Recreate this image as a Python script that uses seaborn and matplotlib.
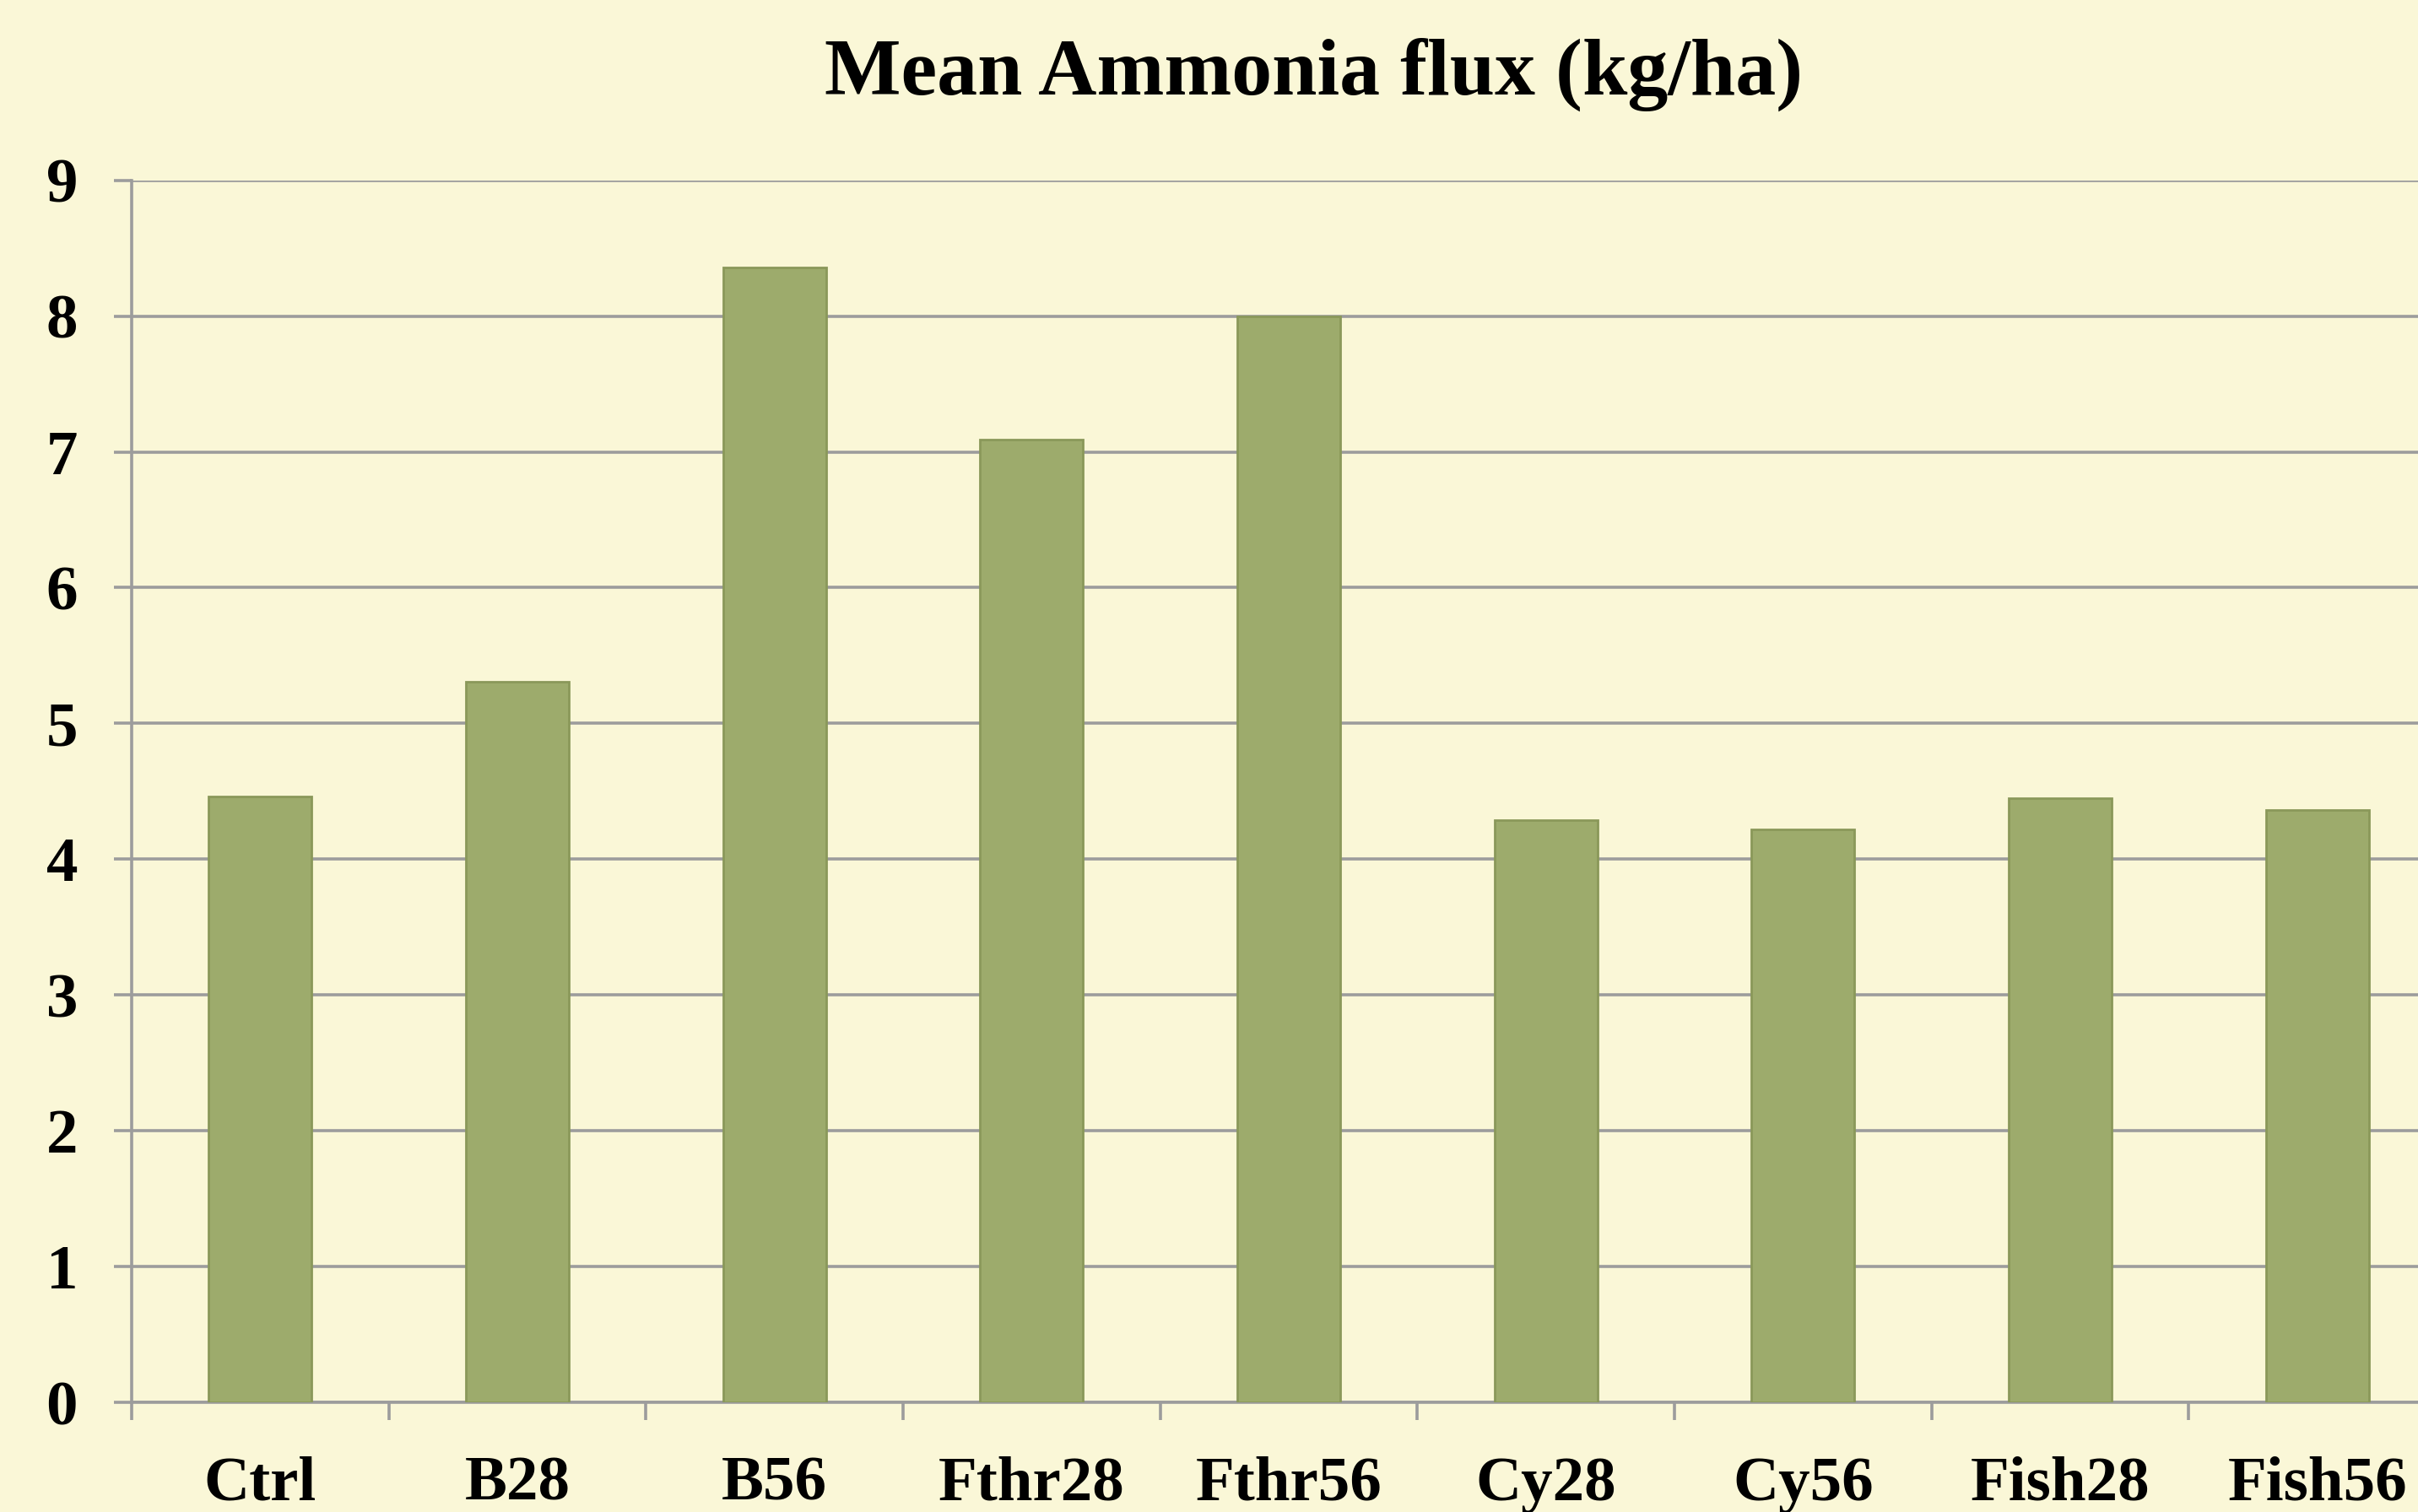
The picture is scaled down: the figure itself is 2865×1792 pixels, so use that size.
import numpy as np
import pandas as pd
import matplotlib
matplotlib.use("Agg")
import matplotlib.pyplot as plt
import seaborn as sns

categories = ["Ctrl", "B28", "B56", "Fthr28", "Fthr56", "Cy28", "Cy56", "Fish28", "Fish56"]
values = [4.46, 5.31, 8.36, 7.09, 8.00, 4.29, 4.22, 4.45, 4.36]
y_ticks = [0, 1, 2, 3, 4, 5, 6, 7, 8, 9]
title = "Mean Ammonia flux (kg/ha)"

BG = "#FAF7D7"
BAR = "#9DAB6C"
EDGE = "#8A985A"
GRID = "#9C9C9C"

sns.set_theme(style="white")
plt.rcParams["font.family"] = ["Liberation Serif", "DejaVu Serif"]
plt.rcParams["font.weight"] = "bold"

DPI = 100
fig = plt.figure(figsize=(28.65, 17.92), dpi=DPI, facecolor=BG)
ax = fig.add_axes([156 / 2865, 130 / 1792, (2898 - 156) / 2865, (1662 - 213.7) / 1792])
ax.set_facecolor(BG)

df = pd.DataFrame({"cat": categories, "val": values})
sns.barplot(data=df, x="cat", y="val", color=BAR, saturation=1, width=0.4,
            edgecolor=EDGE, linewidth=2.0, ax=ax, zorder=3)

ax.set_xlim(-0.5, len(categories) - 0.5)
ax.set_ylim(0, 9)
ax.set_xlabel("")
ax.set_ylabel("")

ax.set_axisbelow(True)
ax.yaxis.grid(True, color=GRID, linewidth=2.6, zorder=0)
ax.xaxis.grid(False)

for s in ["top", "right"]:
    ax.spines[s].set_visible(False)
for s in ["left", "bottom"]:
    ax.spines[s].set_color(GRID)
    ax.spines[s].set_linewidth(2.6)

ax.set_yticks(y_ticks)
ax.set_yticklabels([str(t) for t in y_ticks])
ax.tick_params(axis="y", which="major", direction="out", length=15, width=2.6,
               color=GRID, pad=31, labelsize=54, left=True)

ax.set_xticks(range(len(categories)))
ax.set_xticklabels(categories)
ax.set_xticks(np.arange(-0.5, len(categories), 1.0), minor=True)
ax.tick_params(axis="x", which="major", length=0, pad=46, labelsize=54)
ax.tick_params(axis="x", which="minor", direction="out", length=15, width=2.6,
               color=GRID, bottom=True)

for lab in ax.get_xticklabels() + ax.get_yticklabels():
    lab.set_fontweight("bold")
    lab.set_color("black")

fig.text(1557 / 2865, 1 - 112 / 1792, title, ha="center", va="baseline",
         fontsize=69, fontweight="bold", color="black")

fig.savefig("out.png", dpi=DPI, facecolor=BG)
